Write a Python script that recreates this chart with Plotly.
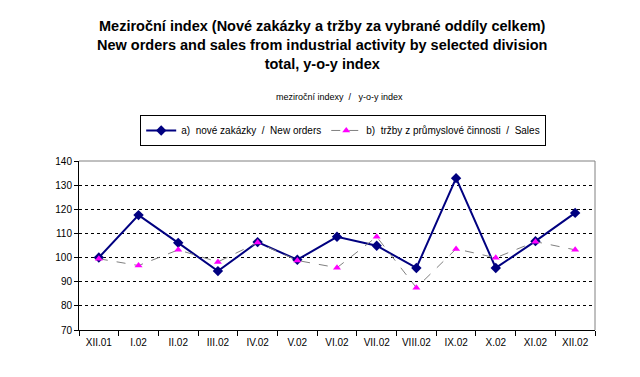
import plotly.graph_objects as go

categories = ["XII.01", "I.02", "II.02", "III.02", "IV.02", "V.02", "VI.02",
              "VII.02", "VIII.02", "IX.02", "X.02", "XI.02", "XII.02"]
new_orders = [100.0, 117.6, 106.1, 94.4, 106.4, 99.1, 108.6, 104.9, 95.7, 132.9, 95.7, 106.8, 118.5]
sales = [99.5, 96.7, 103.2, 98.2, 106.2, 98.8, 95.8, 108.6, 87.5, 103.6, 99.9, 106.6, 103.2]

name_orders = "a)  nové zakázky  /  New orders"
name_sales = "b)  tržby z průmyslové činnosti  /  Sales"

fig = go.Figure()
fig.add_trace(go.Scatter(
    x=categories, y=new_orders, name=name_orders, mode="lines+markers",
    line=dict(color="#000080", width=2),
    marker=dict(symbol="diamond", size=8, color="#000080"),
))
fig.add_trace(go.Scatter(
    x=categories, y=sales, name=name_sales, mode="lines+markers",
    line=dict(color="#808080", width=1, dash="dash"),
    marker=dict(symbol="triangle-up", size=7, color="#FF00FF"),
))

font = "Liberation Sans, Arial, sans-serif"
fig.update_layout(
    width=640, height=377,
    paper_bgcolor="white", plot_bgcolor="white",
    margin=dict(l=71, r=53, t=153, b=55),
    font=dict(family=font, size=10, color="black"),
    showlegend=True,
    legend=dict(orientation="h", x=0.512, xanchor="center", y=1.089, yanchor="bottom",
                bordercolor="black", borderwidth=1, bgcolor="white",
                font=dict(size=10), itemwidth=30, tracegroupgap=0),
    annotations=[
        dict(text="<b>Meziroční index (Nové zakázky a tržby za vybrané oddíly celkem)<br>"
                  "New orders and sales from industrial activity by selected division<br>"
                  "total, y-o-y index</b>",
             xref="paper", yref="paper", x=0.471, y=1.0, yanchor="top", xanchor="center",
             yshift=145, showarrow=False, font=dict(size=14.5, family=font), align="center"),
        dict(text="meziroční indexy  /   y-o-y index", xref="paper", yref="paper",
             x=0.504, y=1.0, yanchor="middle", xanchor="center", yshift=64,
             showarrow=False, font=dict(size=9, family=font)),
    ],
)
fig.update_xaxes(
    type="category", range=[-0.5, 12.5], showline=True, linecolor="black", linewidth=1,
    ticks="outside", tickson="boundaries", ticklen=5, tickcolor="black",
    showgrid=False, mirror=False, tickfont=dict(size=10), ticklabelstandoff=3,
)
fig.update_yaxes(
    range=[70, 140], dtick=10, showline=True, linecolor="black", linewidth=1,
    ticks="outside", ticklen=4, tickcolor="black",
    showgrid=True, gridcolor="black", griddash="3px,3px", gridwidth=1,
    zeroline=False, tickfont=dict(size=10),
)
# gray plot border (top and right)
fig.add_shape(type="line", xref="paper", yref="paper", x0=0, x1=1, y0=1, y1=1,
              line=dict(color="#808080", width=1))
fig.add_shape(type="line", xref="paper", yref="paper", x0=1, x1=1, y0=0, y1=1,
              line=dict(color="#808080", width=1))

fig.write_html("out.html")
